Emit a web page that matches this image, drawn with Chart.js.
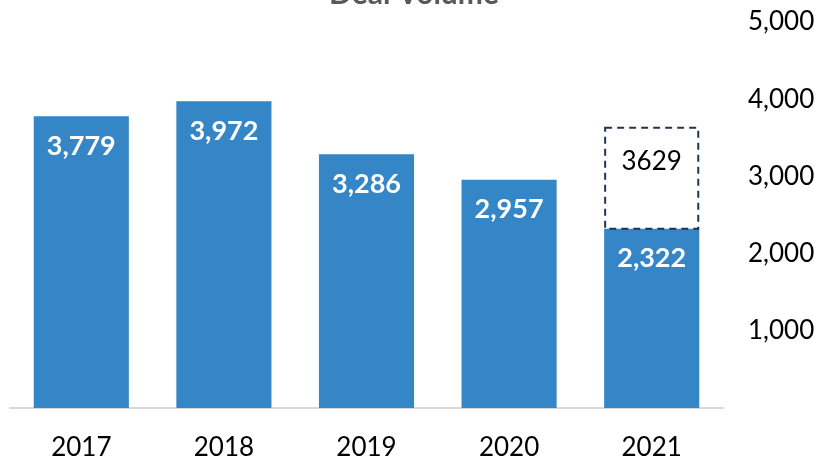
<!DOCTYPE html>
<html>
<head>
<meta charset="utf-8">
<script src="https://cdn.jsdelivr.net/npm/chart.js"></script>
<style>
  html, body { margin: 0; padding: 0; background: #fff; }
  #wrap { width: 838px; height: 459px; }
</style>
</head>
<body>
<div id="wrap"><canvas id="dealChart" width="838" height="459"></canvas></div>
<script>
// values
const years = ['2017', '2018', '2019', '2020', '2021'];
const dealVolume = [3779, 3972, 3286, 2957, 2322];
const projected2021 = 3629;
const yTicks = [1000, 2000, 3000, 4000, 5000];

const barBlue = '#3586C7';
const font = 'Lato, "Open Sans", sans-serif';

// projected part of 2021 as a floating bar from actual to projected
const projectedData = years.map((y, i) => i === years.length - 1 ? [dealVolume[i], projected2021] : null);

const titlePlugin = {
  id: 'cutTitle',
  afterDraw(chart) {
    const c = chart.ctx;
    c.save();
    c.font = 'bold 30px ' + font;
    c.fillStyle = '#595959';
    c.textAlign = 'center';
    c.textBaseline = 'alphabetic';
    c.fillText('Deal Volume', 414, 4);
    c.restore();
  }
};

const labelPlugin = {
  id: 'barLabels',
  afterDatasetsDraw(chart) {
    const c = chart.ctx;
    c.save();
    c.textAlign = 'center';
    c.textBaseline = 'middle';
    // actual values, white bold inside bars
    chart.getDatasetMeta(0).data.forEach((bar, i) => {
      c.font = 'bold 27px ' + font;
      c.fillStyle = '#ffffff';
      c.fillText(dealVolume[i].toLocaleString('en-US'), bar.x, bar.y + 30);
    });
    // projected box, dashed outline
    const meta = chart.getDatasetMeta(1);
    meta.data.forEach((bar, i) => {
      if (!projectedData[i]) return;
      const w = bar.width;
      c.strokeStyle = '#1F3552';
      c.lineWidth = 2;
      c.setLineDash([7, 5]);
      c.strokeRect(bar.x - w / 2 + 1, bar.y, w - 2, bar.base - bar.y);
      c.setLineDash([]);
      c.font = '26px ' + font;
      c.fillStyle = '#000000';
      c.fillText(String(projected2021), bar.x, bar.y + 34);
    });
    c.restore();
  }
};

new Chart(document.getElementById('dealChart'), {
  type: 'bar',
  data: {
    labels: years,
    datasets: [
      {
        label: 'Deal Volume',
        data: dealVolume,
        backgroundColor: barBlue,
        barPercentage: 0.667,
        categoryPercentage: 1.0
      },
      {
        label: 'Projected',
        data: projectedData,
        backgroundColor: 'rgba(0,0,0,0)',
        borderWidth: 0,
        barPercentage: 0.667,
        categoryPercentage: 1.0
      }
    ]
  },
  options: {
    responsive: false,
    animation: false,
    layout: { padding: { left: 10, top: 22, right: 0, bottom: 0 } },
    plugins: {
      legend: { display: false },
      tooltip: { enabled: false },
      title: { display: false }
    },
    scales: {
      x: {
        stacked: true,
        grid: { display: false, drawTicks: false },
        border: { display: true, color: '#D9D9D9', width: 2 },
        ticks: { color: '#000', font: { family: font, size: 26 }, padding: 24 },
        afterFit(scale) { scale.height = 51; scale.paddingLeft = 0; scale.paddingRight = 0; }
      },
      y: {
        position: 'right',
        min: 0,
        max: 5000,
        afterBuildTicks(scale) { scale.ticks = yTicks.map(v => ({ value: v })); },
        grid: { display: false, drawTicks: false },
        border: { display: false },
        ticks: {
          color: '#000',
          font: { family: font, size: 26 },
          padding: 25,
          callback: v => v.toLocaleString('en-US')
        },
        afterFit(scale) { scale.width = 115; scale.paddingTop = 0; scale.paddingBottom = 0; }
      }
    }
  },
  plugins: [titlePlugin, labelPlugin]
});
</script>
</body>
</html>
